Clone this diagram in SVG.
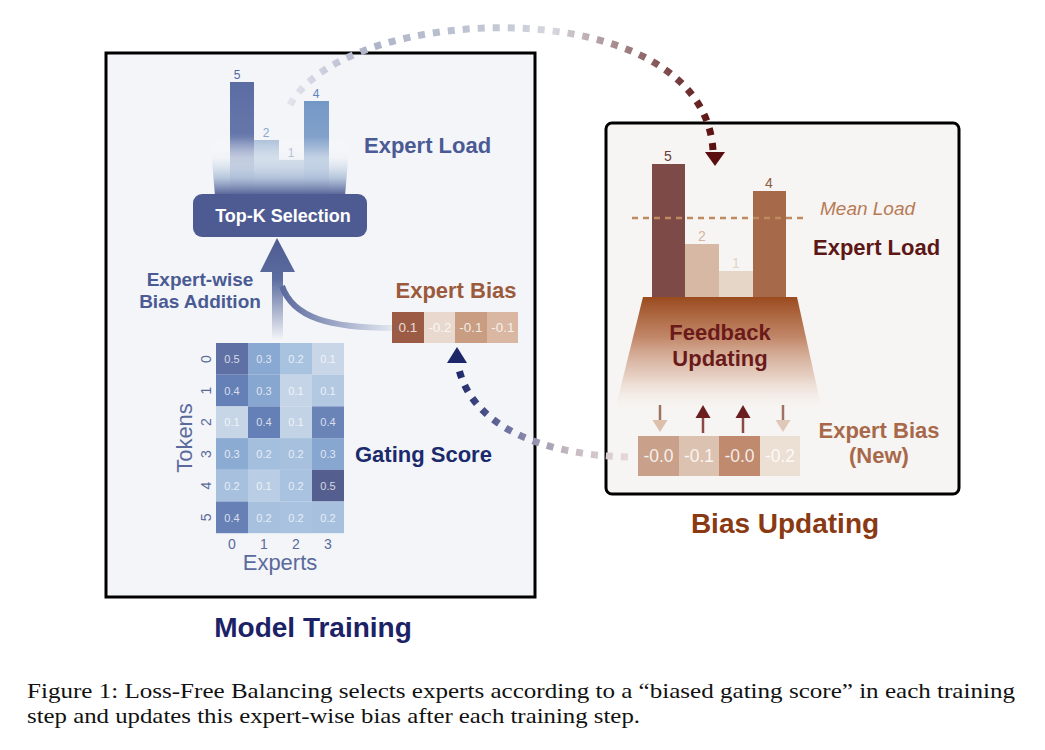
<svg xmlns="http://www.w3.org/2000/svg" width="1045" height="750" viewBox="0 0 1045 750">
<defs>
<style>
text{font-family:"Liberation Sans",Arial,sans-serif}
.b{font-weight:bold}
.cell{font-size:11px;fill:#ffffff;fill-opacity:0.75;text-anchor:middle}
.lab{font-size:14px;fill:#5b6a9c;text-anchor:middle}
.cap{font-family:"Liberation Serif","Times New Roman",serif;font-size:22px;fill:#111}
.dash{fill:none;stroke-width:7;stroke-dasharray:7 8}
</style>
<linearGradient id="barA" x1="0" y1="0" x2="0" y2="1"><stop offset="0" stop-color="#5a6ca2"/><stop offset="0.45" stop-color="#6577aa"/><stop offset="1" stop-color="#dde5ef"/></linearGradient>
<linearGradient id="barB" x1="0" y1="0" x2="0" y2="1"><stop offset="0" stop-color="#a9bdd8"/><stop offset="1" stop-color="#dfe7f0"/></linearGradient>
<linearGradient id="barC" x1="0" y1="0" x2="0" y2="1"><stop offset="0" stop-color="#bccbde"/><stop offset="1" stop-color="#e0e7f0"/></linearGradient>
<linearGradient id="barD" x1="0" y1="0" x2="0" y2="1"><stop offset="0" stop-color="#7498c6"/><stop offset="0.5" stop-color="#86a4cc"/><stop offset="1" stop-color="#dde5ef"/></linearGradient>
<linearGradient id="fanL" x1="0" y1="137" x2="0" y2="196" gradientUnits="userSpaceOnUse"><stop offset="0" stop-color="#ffffff" stop-opacity="0"/><stop offset="0.35" stop-color="#eef2f7" stop-opacity="0.5"/><stop offset="0.7" stop-color="#a9bcd6" stop-opacity="0.85"/><stop offset="1" stop-color="#4e5b92"/></linearGradient>
<linearGradient id="upArr" x1="0" y1="238" x2="0" y2="340" gradientUnits="userSpaceOnUse"><stop offset="0" stop-color="#4e5b92"/><stop offset="0.4" stop-color="#5b6c9f"/><stop offset="1" stop-color="#5b6c9f" stop-opacity="0"/></linearGradient>
<linearGradient id="branch" x1="282" y1="0" x2="392" y2="0" gradientUnits="userSpaceOnUse"><stop offset="0" stop-color="#5b6a9e"/><stop offset="1" stop-color="#e2e7f0"/></linearGradient>
<linearGradient id="fanR" x1="0" y1="297" x2="0" y2="410" gradientUnits="userSpaceOnUse"><stop offset="0" stop-color="#9a4a1e"/><stop offset="0.35" stop-color="#b36a44" stop-opacity="0.8"/><stop offset="0.7" stop-color="#d4a890" stop-opacity="0.5"/><stop offset="1" stop-color="#f0e6e0" stop-opacity="0"/></linearGradient>
<linearGradient id="arcTop" x1="290" y1="0" x2="715" y2="0" gradientUnits="userSpaceOnUse"><stop offset="0" stop-color="#e2e4ec"/><stop offset="0.18" stop-color="#aeb3c8"/><stop offset="0.5" stop-color="#c4c9d6"/><stop offset="0.62" stop-color="#d6d8de"/><stop offset="0.8" stop-color="#9c7a7c"/><stop offset="1" stop-color="#5a0e0e"/></linearGradient>
<linearGradient id="arcBot" x1="628" y1="0" x2="456" y2="0" gradientUnits="userSpaceOnUse"><stop offset="0" stop-color="#e4d8d8"/><stop offset="0.35" stop-color="#c4b8c0"/><stop offset="0.7" stop-color="#6e72a0"/><stop offset="1" stop-color="#1c2668"/></linearGradient>
</defs>

<g id="model-training-panel">
<rect x="106" y="53" width="429" height="544" fill="#f3f5f8" stroke="#000" stroke-width="3"/>
<text x="313" y="637" class="b" font-size="28" fill="#1c2266" text-anchor="middle">Model Training</text>
</g>

<g id="expert-load-left">
<rect x="230" y="82" width="24" height="113" fill="url(#barA)"/>
<rect x="254" y="140" width="25" height="55" fill="url(#barB)"/>
<rect x="279" y="160" width="25" height="35" fill="url(#barC)"/>
<rect x="304" y="101" width="25" height="94" fill="url(#barD)"/>
<polygon points="210,137 350,137 345,196 215,196" fill="url(#fanL)"/>
<text x="237" y="79" font-size="12" fill="#4f68a0" text-anchor="middle">5</text>
<text x="266" y="137" font-size="12" fill="#8aa6cc" text-anchor="middle">2</text>
<text x="291" y="157" font-size="12" fill="#b4c4d8" text-anchor="middle">1</text>
<text x="316" y="98" font-size="12" fill="#5f84ba" text-anchor="middle">4</text>
<text x="364" y="153" class="b" font-size="22" fill="#4a5a94">Expert Load</text>
</g>

<g id="topk">
<rect x="193" y="194" width="174" height="43" rx="9" fill="#4e5b92"/>
<text x="283" y="222" class="b" font-size="18" fill="#ffffff" text-anchor="middle">Top-K Selection</text>
</g>

<g id="bias-addition">
<path d="M282,286 C293,318 330,328 393,328" fill="none" stroke="url(#branch)" stroke-width="6"/>
<path d="M272,340 L272,272 L260,272 L277,238 L295,272 L283,272 L283,340 Z" fill="url(#upArr)"/>
<text x="200" y="286" class="b" font-size="19" fill="#4a5a94" text-anchor="middle">Expert-wise</text>
<text x="200" y="308" class="b" font-size="19" fill="#4a5a94" text-anchor="middle">Bias Addition</text>
</g>

<g id="expert-bias-left">
<text x="456" y="298" class="b" font-size="22" fill="#9c5a3c" text-anchor="middle">Expert Bias</text>
<rect x="392" y="312" width="32" height="31" fill="#9b5b45"/>
<rect x="424" y="312" width="31" height="31" fill="#e8d8ce"/>
<rect x="455" y="312" width="32" height="31" fill="#c89d82"/>
<rect x="487" y="312" width="31" height="31" fill="#d9b7a2"/>
<text x="408" y="332" font-size="13.5" fill="#fff" fill-opacity="0.8" text-anchor="middle">0.1</text>
<text x="440" y="332" font-size="13.5" fill="#fff" fill-opacity="0.8" text-anchor="middle">-0.2</text>
<text x="471" y="332" font-size="13.5" fill="#fff" fill-opacity="0.8" text-anchor="middle">-0.1</text>
<text x="503" y="332" font-size="13.5" fill="#fff" fill-opacity="0.8" text-anchor="middle">-0.1</text>
</g>

<g id="gating-score">
<rect x="216" y="343" width="32" height="31.7" fill="#5f70a4"/>
<rect x="248" y="343" width="32" height="31.7" fill="#89a8d2"/>
<rect x="280" y="343" width="32" height="31.7" fill="#a8c3e0"/>
<rect x="312" y="343" width="32" height="31.7" fill="#c8d6e8"/>
<rect x="216" y="374.7" width="32" height="31.7" fill="#6480b6"/>
<rect x="248" y="374.7" width="32" height="31.7" fill="#87a6d0"/>
<rect x="280" y="374.7" width="32" height="31.7" fill="#c5d5e7"/>
<rect x="312" y="374.7" width="32" height="31.7" fill="#b3c9e2"/>
<rect x="216" y="406.4" width="32" height="31.7" fill="#c6d6e6"/>
<rect x="248" y="406.4" width="32" height="31.7" fill="#6580b6"/>
<rect x="280" y="406.4" width="32" height="31.7" fill="#c3d3e6"/>
<rect x="312" y="406.4" width="32" height="31.7" fill="#6a84b8"/>
<rect x="216" y="438.1" width="32" height="31.7" fill="#8cabd2"/>
<rect x="248" y="438.1" width="32" height="31.7" fill="#a4bfde"/>
<rect x="280" y="438.1" width="32" height="31.7" fill="#a6c0de"/>
<rect x="312" y="438.1" width="32" height="31.7" fill="#87a6d0"/>
<rect x="216" y="469.8" width="32" height="31.7" fill="#a6c0de"/>
<rect x="248" y="469.8" width="32" height="31.7" fill="#b9cde4"/>
<rect x="280" y="469.8" width="32" height="31.7" fill="#a8c2df"/>
<rect x="312" y="469.8" width="32" height="31.7" fill="#555f8f"/>
<rect x="216" y="501.5" width="32" height="31.7" fill="#6781b6"/>
<rect x="248" y="501.5" width="32" height="31.7" fill="#a6c0de"/>
<rect x="280" y="501.5" width="32" height="31.7" fill="#a8c2df"/>
<rect x="312" y="501.5" width="32" height="31.7" fill="#a6c0de"/>
<text class="cell" x="232" y="363">0.5</text><text class="cell" x="264" y="363">0.3</text><text class="cell" x="296" y="363">0.2</text><text class="cell" x="328" y="363">0.1</text>
<text class="cell" x="232" y="394.7">0.4</text><text class="cell" x="264" y="394.7">0.3</text><text class="cell" x="296" y="394.7">0.1</text><text class="cell" x="328" y="394.7">0.1</text>
<text class="cell" x="232" y="426.4">0.1</text><text class="cell" x="264" y="426.4">0.4</text><text class="cell" x="296" y="426.4">0.1</text><text class="cell" x="328" y="426.4">0.4</text>
<text class="cell" x="232" y="458.1">0.3</text><text class="cell" x="264" y="458.1">0.2</text><text class="cell" x="296" y="458.1">0.2</text><text class="cell" x="328" y="458.1">0.3</text>
<text class="cell" x="232" y="489.8">0.2</text><text class="cell" x="264" y="489.8">0.1</text><text class="cell" x="296" y="489.8">0.2</text><text class="cell" x="328" y="489.8">0.5</text>
<text class="cell" x="232" y="521.5">0.4</text><text class="cell" x="264" y="521.5">0.2</text><text class="cell" x="296" y="521.5">0.2</text><text class="cell" x="328" y="521.5">0.2</text>
<text class="lab" x="211" y="359" transform="rotate(-90 211 359)">0</text>
<text class="lab" x="211" y="390.5" transform="rotate(-90 211 390.5)">1</text>
<text class="lab" x="211" y="422.2" transform="rotate(-90 211 422.2)">2</text>
<text class="lab" x="211" y="454" transform="rotate(-90 211 454)">3</text>
<text class="lab" x="211" y="485.6" transform="rotate(-90 211 485.6)">4</text>
<text class="lab" x="211" y="517.3" transform="rotate(-90 211 517.3)">5</text>
<text class="lab" x="232" y="549">0</text><text class="lab" x="264" y="549">1</text><text class="lab" x="296" y="549">2</text><text class="lab" x="328" y="549">3</text>
<text x="192" y="438" transform="rotate(-90 192 438)" font-size="22" fill="#5b6a9c" text-anchor="middle">Tokens</text>
<text x="280" y="570" font-size="22" fill="#5b6a9c" text-anchor="middle">Experts</text>
<text x="355" y="462" class="b" font-size="22" fill="#1a2a6c">Gating Score</text>
</g>

<g id="bias-updating-panel">
<rect x="606" y="123" width="353" height="371" rx="6" fill="#f7f5f3" stroke="#000" stroke-width="3"/>
<text x="785" y="533" class="b" font-size="28" fill="#8a3a12" text-anchor="middle">Bias Updating</text>
</g>

<g id="expert-load-right">
<rect x="652" y="164" width="33" height="133" fill="#7d4a48"/>
<rect x="685" y="244" width="34" height="53" fill="#d7b8a4"/>
<rect x="719" y="271" width="34" height="26" fill="#e6d6c8"/>
<rect x="753" y="191" width="33" height="106" fill="#a66a4a"/>
<text x="668" y="161" font-size="14" fill="#6b3b38" text-anchor="middle">5</text>
<text x="702" y="241" font-size="14" fill="#d4b4a2" text-anchor="middle">2</text>
<text x="736" y="268" font-size="14" fill="#e2d2c6" text-anchor="middle">1</text>
<text x="769" y="188" font-size="14" fill="#8a5a44" text-anchor="middle">4</text>
<line x1="632" y1="218" x2="806" y2="218" stroke="#c08a60" stroke-width="2.5" stroke-dasharray="6 5"/>
<text x="820" y="215" font-size="19" font-style="italic" fill="#b87a56">Mean Load</text>
<text x="813" y="255" class="b" font-size="22" fill="#5c1717">Expert Load</text>
</g>

<g id="feedback-updating">
<polygon points="643,297 797,297 822,410 615,410" fill="url(#fanR)"/>
<text x="720" y="340" class="b" font-size="22" fill="#6b1a1a" text-anchor="middle">Feedback</text>
<text x="720" y="366" class="b" font-size="22" fill="#6b1a1a" text-anchor="middle">Updating</text>
</g>

<g id="expert-bias-new">
<line x1="660" y1="405" x2="660" y2="421" stroke="#a07060" stroke-width="2.5"/>
<polygon points="652.5,420 667.5,420 660,432" fill="#dcc0ac"/>
<line x1="703" y1="417" x2="703" y2="433" stroke="#8a4a48" stroke-width="2.5"/>
<polygon points="695.5,418 710.5,418 703,405" fill="#6b1e1e"/>
<line x1="743" y1="417" x2="743" y2="433" stroke="#8a4a48" stroke-width="2.5"/>
<polygon points="735.5,418 750.5,418 743,405" fill="#6b1e1e"/>
<line x1="783" y1="405" x2="783" y2="421" stroke="#a07060" stroke-width="2.5"/>
<polygon points="775.5,420 790.5,420 783,432" fill="#e0c8b8"/>
<rect x="638" y="436" width="41" height="40" fill="#c9a08a"/>
<rect x="679" y="436" width="40" height="40" fill="#dcc2b0"/>
<rect x="719" y="436" width="41" height="40" fill="#c08a6e"/>
<rect x="760" y="436" width="40" height="40" fill="#ecdfd4"/>
<text x="658.5" y="462" font-size="17.5" fill="#fff" fill-opacity="0.85" text-anchor="middle">-0.0</text>
<text x="699" y="462" font-size="17.5" fill="#fff" fill-opacity="0.85" text-anchor="middle">-0.1</text>
<text x="739.5" y="462" font-size="17.5" fill="#fff" fill-opacity="0.85" text-anchor="middle">-0.0</text>
<text x="780" y="462" font-size="17.5" fill="#fff" fill-opacity="0.85" text-anchor="middle">-0.2</text>
<text x="879" y="438" class="b" font-size="22" fill="#a8694a" text-anchor="middle">Expert Bias</text>
<text x="879" y="463" class="b" font-size="22" fill="#a8694a" text-anchor="middle">(New)</text>
</g>

<g id="connectors">
<path class="dash" d="M290,105 C345,2 702,-12 713,150" stroke="url(#arcTop)"/>
<polygon points="705,152 725,152 715,166" fill="#5a0e0e"/>
<path class="dash" d="M628,457 C540,455 470,425 458,365" stroke="url(#arcBot)"/>
<polygon points="447,363 467,363 457,347" fill="#1c2668"/>
</g>

<g id="caption">
<text class="cap" x="27" y="698" textLength="988" lengthAdjust="spacingAndGlyphs">Figure 1: Loss-Free Balancing selects experts according to a “biased gating score” in each training</text>
<text class="cap" x="27" y="723" textLength="613" lengthAdjust="spacingAndGlyphs">step and updates this expert-wise bias after each training step.</text>
</g>
</svg>
